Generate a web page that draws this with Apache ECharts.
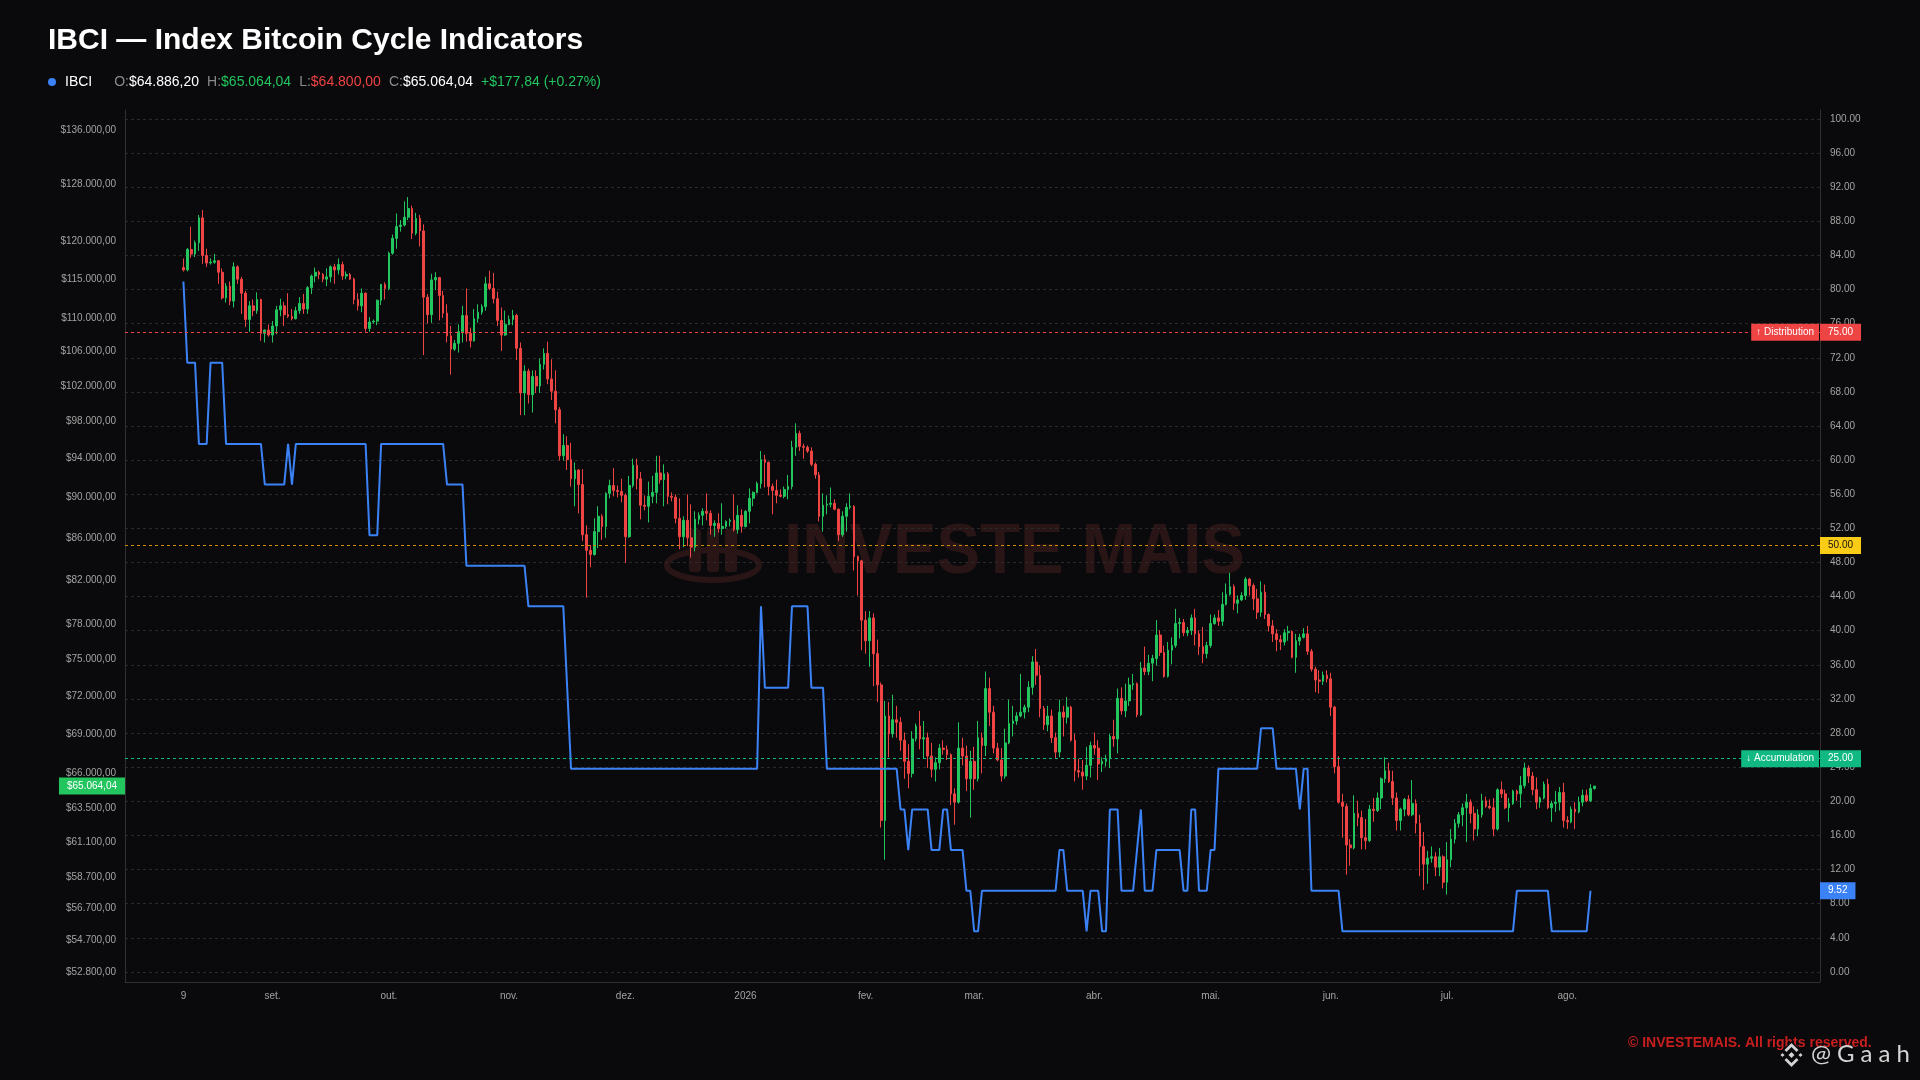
<!DOCTYPE html>
<html>
<head>
<meta charset="utf-8">
<title>IBCI — Index Bitcoin Cycle Indicators</title>
<script src="https://cdn.jsdelivr.net/npm/echarts@6.0.0/dist/echarts.min.js"></script>
<style>
  html, body { margin: 0; padding: 0; background: #0a0a0c; }
  #chart { width: 1920px; height: 1080px; }
</style>
</head>
<body>
<div id="chart"></div>
<script>
// daily candles, prices in thousands of USD, first day 2025-08-09
const firstDay = '2025-08-09';
const PRICE_UNIT = 1000;

const opens = [
  116.5,116.2,118.9,118.3,119.8,123.2,118.1,117.1,117.2,117.4,
  115.9,112.6,114.1,112.2,116.6,115.0,113.2,109.9,111.6,111.0,
  112.4,108.2,108.6,108.0,109.1,111.1,111.6,110.5,110.3,110.0,
  111.0,111.9,111.2,113.9,115.4,115.9,115.6,115.0,115.3,116.6,
  116.2,116.9,115.4,115.6,115.0,112.4,111.6,113.2,108.8,109.6,
  109.7,112.3,114.3,113.8,118.4,120.4,122.0,122.2,123.3,124.5,
  121.1,123.1,121.4,112.7,110.5,114.9,115.2,112.9,110.7,107.9,
  106.3,107.0,108.4,110.4,108.2,107.3,110.0,110.8,111.5,114.4,
  113.8,112.5,109.8,108.0,109.3,109.9,110.4,106.4,101.2,103.7,
  101.0,103.1,102.0,104.5,105.8,102.8,101.4,99.3,94.3,95.4,
  93.9,91.9,92.8,91.3,86.3,84.8,84.4,86.6,88.1,87.1,
  90.4,91.2,90.7,90.6,90.2,86.1,91.2,93.3,91.9,89.2,
  89.1,90.1,90.5,92.5,91.8,92.4,90.1,90.0,87.9,86.1,
  87.7,86.0,85.1,87.8,88.2,88.6,88.4,87.2,87.4,86.9,
  87.1,87.6,87.7,86.8,88.2,87.1,88.6,89.9,90.5,91.4,
  93.9,93.6,91.1,90.7,90.2,90.1,90.8,91.1,95.2,96.7,
  95.3,95.2,94.8,93.4,92.3,88.1,89.2,89.3,89.4,88.8,
  86.3,88.1,89.0,89.1,84.2,83.8,78.4,76.6,78.6,75.5,
  72.9,62.6,70.4,69.0,70.1,69.9,68.5,66.9,66.0,68.6,
  69.6,68.6,68.7,67.3,66.3,66.8,67.9,67.8,67.4,64.5,
  63.9,67.9,67.3,65.6,66.9,65.6,68.7,68.1,72.6,70.7,
  67.9,67.0,65.8,68.3,69.8,70.0,70.4,70.7,71.1,72.7,
  74.8,73.7,71.0,69.7,70.4,68.7,67.6,70.7,70.3,71.1,
  68.5,66.2,66.1,65.8,66.6,68.1,67.9,66.7,66.9,67.1,
  68.8,68.6,71.8,70.8,71.6,72.9,73.0,70.5,74.3,74.0,
  74.7,75.1,77.1,75.6,73.6,75.8,76.2,78.1,78.2,77.3,
  77.5,78.6,77.2,76.1,75.5,76.2,78.1,78.6,78.3,79.8,
  80.7,81.4,79.9,80.2,80.6,82.1,81.5,80.3,79.1,80.9,
  78.9,77.9,77.2,76.7,76.5,77.3,77.4,75.2,76.6,76.9,
  77.2,75.7,74.2,73.3,73.2,73.7,73.4,71.1,66.5,63.9,
  63.6,60.9,60.7,63.1,62.8,61.4,61.2,63.4,63.3,64.2,
  65.6,66.2,65.4,64.2,62.6,63.4,64.1,63.0,63.8,62.4,
  60.8,59.6,60.0,60.1,59.4,60.1,58.4,59.9,61.3,62.4,
  63.0,63.5,63.9,63.1,62.0,63.0,64.0,63.6,63.5,62.0,
  64.8,64.5,63.5,63.8,64.7,64.5,65.1,66.4,65.8,64.8,
  63.9,64.2,65.2,63.5,63.8,63.9,64.6,62.6,62.5,63.4,
  63.2,63.9,64.4,64.0,64.8862
];

const closes = [
  116.2,118.9,118.3,119.8,123.2,118.1,117.1,117.2,117.4,115.9,
  112.6,114.1,112.2,116.6,115.0,113.2,109.9,111.6,111.0,112.4,
  108.2,108.6,108.0,109.1,111.1,111.6,110.5,110.3,110.0,111.0,
  111.9,111.2,113.9,115.4,115.9,115.6,115.0,115.3,116.6,116.2,
  116.9,115.4,115.6,115.0,112.4,111.6,113.2,108.8,109.6,109.7,
  112.3,114.3,113.8,118.4,120.4,122.0,122.2,123.3,124.5,121.1,
  123.1,121.4,112.7,110.5,114.9,115.2,112.9,110.7,107.9,106.3,
  107.0,108.4,110.4,108.2,107.3,110.0,110.8,111.5,114.4,113.8,
  112.5,109.8,108.0,109.3,109.9,110.4,106.4,101.2,103.7,101.0,
  103.1,102.0,104.5,105.8,102.8,101.4,99.3,94.3,95.4,93.9,
  91.9,92.8,91.3,86.3,84.8,84.4,86.6,88.1,87.1,90.4,
  91.2,90.7,90.6,90.2,86.1,91.2,93.3,91.9,89.2,89.1,
  90.1,90.5,92.5,91.8,92.4,90.1,90.0,87.9,86.1,87.7,
  86.0,85.1,87.8,88.2,88.6,88.4,87.2,87.4,86.9,87.1,
  87.6,87.7,86.8,88.2,87.1,88.6,89.9,90.5,91.4,93.9,
  93.6,91.1,90.7,90.2,90.1,90.8,91.1,95.2,96.7,95.3,
  95.2,94.8,93.4,92.3,88.1,89.2,89.3,89.4,88.8,86.3,
  88.1,89.0,89.1,84.2,83.8,78.4,76.6,78.6,75.5,72.9,
  62.6,70.4,69.0,70.1,69.9,68.5,66.9,66.0,68.6,69.6,
  68.6,68.7,67.3,66.3,66.8,67.9,67.8,67.4,64.5,63.9,
  67.9,67.3,65.6,66.9,65.6,68.7,68.1,72.6,70.7,67.9,
  67.0,65.8,68.3,69.8,70.0,70.4,70.7,71.1,72.7,74.8,
  73.7,71.0,69.7,70.4,68.7,67.6,70.7,70.3,71.1,68.5,
  66.2,66.1,65.8,66.6,68.1,67.9,66.7,66.9,67.1,68.8,
  68.6,71.8,70.8,71.6,72.9,73.0,70.5,74.3,74.0,74.7,
  75.1,77.1,75.6,73.6,75.8,76.2,78.1,78.2,77.3,77.5,
  78.6,77.2,76.1,75.5,76.2,78.1,78.6,78.3,79.8,80.7,
  81.4,79.9,80.2,80.6,82.1,81.5,80.3,79.1,80.9,78.9,
  77.9,77.2,76.7,76.5,77.3,77.4,75.2,76.6,76.9,77.2,
  75.7,74.2,73.3,73.2,73.7,73.4,71.1,66.5,63.9,63.6,
  60.9,60.7,63.1,62.8,61.4,61.2,63.4,63.3,64.2,65.6,
  66.2,65.4,64.2,62.6,63.4,64.1,63.0,63.8,62.4,60.8,
  59.6,60.0,60.1,59.4,60.1,58.4,59.9,61.3,62.4,63.0,
  63.5,63.9,63.1,62.0,63.0,64.0,63.6,63.5,62.0,64.8,
  64.5,63.5,63.8,64.7,64.5,65.1,66.4,65.8,64.8,63.9,
  64.2,65.2,63.5,63.8,63.9,64.6,62.6,62.5,63.4,63.2,
  63.9,64.4,64.0,64.8862,65.06404
];

const highs = [
  117.7,119.1,122.0,120.1,123.6,124.3,119.0,117.7,118.3,117.5,
  116.4,114.5,114.7,117.2,116.8,115.3,113.5,112.2,112.4,113.3,
  112.5,108.7,109.3,109.7,111.6,112.5,112.1,113.2,111.2,111.5,
  112.7,113.1,114.1,115.6,116.5,116.1,115.8,116.4,116.8,117.0,
  117.7,117.3,116.0,115.8,115.2,113.2,113.8,113.3,110.2,109.9,
  112.4,114.4,114.6,118.6,120.9,123.8,122.9,125.5,126.1,124.9,
  123.9,123.6,122.3,113.1,115.7,115.9,115.3,113.5,111.8,109.1,
  107.4,109.3,111.6,113.8,108.9,111.2,111.8,111.8,115.3,116.1,
  115.8,113.4,111.4,111.0,110.4,111.1,110.6,107.1,104.4,104.0,
  103.8,103.8,105.2,106.4,107.2,105.1,103.8,99.6,96.6,96.4,
  95.7,93.6,92.9,92.9,87.2,85.3,87.9,89.1,88.3,90.5,
  91.8,93.0,91.2,91.9,90.4,92.2,94.0,94.0,92.6,90.2,
  91.6,92.2,94.3,94.3,93.4,92.6,90.5,90.3,89.9,88.1,
  90.3,89.3,88.6,88.5,88.9,90.4,88.7,87.7,88.4,89.4,
  87.7,87.9,90.3,89.2,88.8,88.7,90.9,90.6,91.6,94.8,
  94.4,93.7,91.4,91.8,90.8,91.1,92.3,95.9,97.8,97.0,
  95.6,95.4,95.2,93.6,92.6,90.4,90.2,91.0,89.8,88.9,
  88.6,89.4,90.4,89.2,84.3,83.9,79.2,79.2,79.0,76.7,
  73.1,71.6,71.5,72.1,71.2,70.3,69.1,68.2,69.2,69.8,
  70.8,70.0,69.1,68.3,67.2,68.2,68.5,68.1,67.5,64.9,
  69.9,68.7,68.1,67.7,68.0,70.0,69.1,74.0,73.5,71.2,
  68.3,67.9,69.4,71.7,71.2,70.7,73.8,71.3,73.2,75.3,
  75.9,74.5,71.2,71.2,70.9,69.1,71.7,71.2,71.9,71.2,
  69.0,67.1,67.0,68.0,68.4,69.1,68.5,67.2,67.4,69.0,
  70.1,72.6,72.7,73.0,73.5,73.8,73.1,74.8,76.1,75.4,
  75.4,78.4,77.5,76.2,76.5,76.9,79.4,78.6,78.5,77.8,
  78.9,79.4,77.5,77.8,76.5,78.9,78.9,79.3,80.9,81.7,
  82.7,81.6,80.6,80.9,82.3,82.2,81.7,81.2,81.9,81.6,
  79.0,78.4,77.6,77.1,77.6,77.9,77.5,77.2,77.2,77.7,
  77.9,75.9,74.4,74.1,74.0,74.1,73.9,71.2,67.3,64.5,
  63.8,61.3,64.4,64.0,63.3,62.7,63.7,64.2,64.6,65.7,
  67.2,66.8,66.2,64.6,63.5,64.2,64.4,65.5,64.1,63.0,
  61.8,60.5,60.8,60.4,60.7,60.2,61.1,62.0,62.7,63.2,
  63.8,64.5,64.1,63.6,63.4,64.5,64.3,64.1,64.2,64.9,
  65.4,64.8,64.2,64.8,64.8,65.8,66.8,66.6,66.1,65.7,
  64.3,65.4,65.6,64.0,64.7,65.0,65.3,62.9,63.6,63.9,
  64.3,64.8,64.8,65.2,65.06404
];

const lows = [
  116.0,116.0,117.8,117.9,118.7,117.0,116.6,116.9,117.0,114.4,
  112.4,112.0,111.7,111.4,114.4,110.6,109.0,108.4,110.3,110.6,
  107.3,107.1,107.8,107.1,108.1,110.3,109.1,110.1,109.8,109.9,
  110.6,110.6,110.6,113.1,114.6,115.0,114.6,114.1,114.6,114.4,
  115.6,114.9,115.0,114.9,111.8,111.0,110.8,108.4,108.4,109.4,
  109.2,111.7,112.4,113.6,118.2,119.0,121.3,122.0,122.9,120.3,
  120.8,119.3,105.6,109.4,109.5,113.6,109.8,110.1,107.1,103.3,
  106.1,105.9,107.1,107.2,106.5,107.2,109.5,110.5,111.0,113.6,
  111.9,109.1,106.1,107.9,109.2,109.2,105.0,98.7,98.7,100.0,
  99.0,101.2,101.2,103.9,102.2,100.4,97.8,93.8,93.8,92.8,
  91.1,89.1,88.4,85.7,80.4,83.2,84.3,85.0,85.8,86.0,
  89.9,90.1,90.0,89.5,83.6,86.0,91.0,90.8,87.8,88.7,
  87.5,89.4,89.4,91.4,89.1,89.3,89.6,87.4,84.9,85.1,
  85.2,84.1,84.7,87.3,87.2,87.7,86.3,86.1,86.5,86.3,
  86.9,87.1,86.6,86.4,86.5,87.0,87.4,89.1,90.4,90.9,
  91.0,90.2,88.3,89.4,90.0,89.9,89.8,90.8,94.3,94.8,
  94.0,94.6,93.2,91.9,87.6,86.6,88.3,89.0,88.7,85.7,
  86.1,86.6,88.8,82.9,80.6,75.8,75.5,74.4,72.8,71.5,
  62.1,59.9,67.2,68.7,68.7,67.7,65.6,64.9,65.7,68.4,
  67.8,67.1,66.4,65.7,65.4,66.3,67.4,67.0,63.7,62.3,
  63.8,66.6,64.7,62.8,64.8,65.4,66.0,67.3,69.6,67.5,
  66.9,65.4,65.6,68.2,68.8,69.7,70.3,70.2,70.7,72.1,
  72.9,70.3,69.3,69.2,68.3,67.1,67.2,68.8,69.8,68.4,
  65.4,65.7,64.8,65.5,65.7,67.4,65.5,66.1,66.5,66.4,
  68.0,67.5,70.5,70.3,71.2,72.5,70.3,70.4,73.7,73.7,
  73.2,74.5,75.3,73.5,73.5,74.6,76.0,76.8,77.0,77.0,
  77.1,76.2,75.4,74.7,75.1,76.0,78.0,77.9,77.9,79.7,
  80.6,79.3,79.0,80.1,80.2,80.6,79.3,78.5,78.7,78.5,
  77.4,76.5,75.7,75.8,76.2,76.6,75.1,73.9,76.2,76.8,
  75.4,74.0,72.3,72.2,72.9,73.1,70.4,66.0,63.8,61.4,
  58.9,59.5,60.6,62.2,60.6,60.6,61.1,62.5,63.2,63.4,
  65.3,65.3,63.7,61.9,61.9,62.9,62.9,62.9,61.7,58.8,
  57.9,58.3,59.7,58.8,58.8,58.0,57.6,59.4,61.0,62.1,
  62.2,61.1,62.4,61.2,61.5,62.8,63.5,63.4,61.5,61.9,
  64.2,63.4,62.5,63.7,64.0,63.5,64.9,65.3,64.4,63.4,
  63.5,64.1,63.4,62.5,63.2,63.3,62.1,62.0,62.4,62.0,
  63.1,63.6,63.9,63.9,64.8
];

// IBCI cycle index, 0-100 (right axis); last day has no reading yet
const ibci = [
  80.95,
  71.43,71.43,71.43,
  61.90,61.90,61.90,
  71.43,71.43,71.43,71.43,
  61.90,61.90,61.90,61.90,61.90,61.90,61.90,61.90,61.90,61.90,
  57.14,57.14,57.14,57.14,57.14,57.14,
  61.90,57.14,
  61.90,61.90,61.90,61.90,61.90,61.90,61.90,61.90,61.90,61.90,
  61.90,61.90,61.90,61.90,61.90,61.90,61.90,61.90,61.90,
  51.19,51.19,51.19,
  61.90,61.90,61.90,61.90,61.90,61.90,61.90,61.90,61.90,61.90,
  61.90,61.90,61.90,61.90,61.90,61.90,61.90,
  57.14,57.14,57.14,57.14,57.14,
  47.62,47.62,47.62,47.62,47.62,47.62,47.62,47.62,
  47.62,47.62,47.62,47.62,47.62,47.62,47.62,47.62,
  42.86,42.86,42.86,42.86,42.86,42.86,42.86,42.86,42.86,42.86,
  33.33,
  23.81,23.81,23.81,23.81,23.81,23.81,23.81,23.81,23.81,23.81,
  23.81,23.81,23.81,23.81,23.81,23.81,23.81,23.81,23.81,23.81,
  23.81,23.81,23.81,23.81,23.81,23.81,23.81,23.81,23.81,23.81,
  23.81,23.81,23.81,23.81,23.81,23.81,23.81,23.81,23.81,23.81,
  23.81,23.81,23.81,23.81,23.81,23.81,23.81,23.81,23.81,
  42.86,
  33.33,33.33,33.33,33.33,33.33,33.33,33.33,
  42.86,42.86,42.86,42.86,42.86,
  33.33,33.33,33.33,33.33,
  23.81,23.81,23.81,23.81,23.81,23.81,23.81,23.81,23.81,23.81,
  23.81,23.81,23.81,23.81,23.81,23.81,23.81,23.81,23.81,
  19.05,19.05,
  14.29,
  19.05,19.05,19.05,19.05,19.05,
  14.29,14.29,14.29,
  19.05,19.05,
  14.29,14.29,14.29,14.29,
  9.52,9.52,
  4.76,4.76,
  9.52,9.52,9.52,9.52,9.52,9.52,9.52,9.52,9.52,9.52,
  9.52,9.52,9.52,9.52,9.52,9.52,9.52,9.52,9.52,9.52,
  14.29,14.29,
  9.52,9.52,9.52,9.52,9.52,
  4.76,
  9.52,9.52,9.52,
  4.76,4.76,
  19.05,19.05,19.05,
  9.52,9.52,9.52,9.52,
  14.29,
  19.05,
  9.52,9.52,9.52,
  14.29,14.29,14.29,14.29,14.29,14.29,14.29,
  9.52,9.52,
  19.05,19.05,
  9.52,9.52,9.52,
  14.29,14.29,
  23.81,23.81,23.81,23.81,23.81,23.81,23.81,23.81,23.81,23.81,23.81,
  28.57,28.57,28.57,28.57,
  23.81,23.81,23.81,23.81,23.81,23.81,
  19.05,
  23.81,23.81,
  9.52,9.52,9.52,9.52,9.52,9.52,9.52,9.52,
  4.76,4.76,4.76,4.76,4.76,4.76,4.76,4.76,4.76,4.76,
  4.76,4.76,4.76,4.76,4.76,4.76,4.76,4.76,4.76,4.76,
  4.76,4.76,4.76,4.76,4.76,4.76,4.76,4.76,4.76,4.76,
  4.76,4.76,4.76,4.76,4.76,4.76,4.76,4.76,4.76,4.76,
  4.76,4.76,4.76,4.76,4.76,
  9.52,9.52,9.52,9.52,9.52,9.52,9.52,9.52,9.52,
  4.76,4.76,4.76,4.76,4.76,4.76,4.76,4.76,4.76,4.76,
  9.52,
  null
];

// axis ticks
const priceTicks = [52800, 54700, 56700, 58700, 61100, 63500, 66000, 69000, 72000, 75000,
  78000, 82000, 86000, 90000, 94000, 98000, 102000, 106000, 110000, 115000, 120000, 128000, 136000];
const ibciTicks = [0, 4, 8, 12, 16, 20, 24, 28, 32, 36, 40, 44, 48, 52, 56, 60, 64, 68, 72, 76,
  80, 84, 88, 92, 96, 100];
const xTickDates = ['2025-08-09', '2025-09-01', '2025-10-01', '2025-11-01', '2025-12-01', '2026-01-01',
  '2026-02-01', '2026-03-01', '2026-04-01', '2026-05-01', '2026-06-01', '2026-07-01', '2026-08-01'];
const xTickLabels = ['9', 'set.', 'out.', 'nov.', 'dez.', '2026', 'fev.', 'mar.', 'abr.', 'mai.', 'jun.', 'jul.', 'ago.'];

// cycle zones on the index
const levelValues = [75, 50, 25];
const levelTags = ['↑ Distribution', '', '↓ Accumulation'];

const FONT = "'Liberation Sans', Arial, Helvetica, sans-serif";
const UP = '#22c55e';
const DOWN = '#ef4444';
const BLUE = '#3b82f6';
const AXIS = '#303033';
const LABEL = '#a3a3a3';
const HIDDEN = 'rgba(0,0,0,0)';
const levelLine = ['#ef4444', '#d08c00', '#10b981'];
const levelBox = ['#ef4444', '#facc15', '#10b981'];
const levelText = ['#ffffff', '#111111', '#ffffff'];

const DAY = 86400000;

function dayStamp(s) {
  const p = s.split('-').map(Number);
  return Date.UTC(p[0], p[1] - 1, p[2]);
}

function brl(v) {
  const parts = Math.abs(v).toFixed(2).split('.');
  return '$' + parts[0].replace(/\B(?=(\d{3})+(?!\d))/g, '.') + ',' + parts[1];
}

// x is counted in days from the first candle
const t0 = dayStamp(firstDay);
const xTickDays = xTickDates.map(function (s) { return Math.round((dayStamp(s) - t0) / DAY); });

const candleData = closes.map(function (_, i) {
  return [i, opens[i] * PRICE_UNIT, closes[i] * PRICE_UNIT, lows[i] * PRICE_UNIT, highs[i] * PRICE_UNIT];
});
const ibciData = ibci.map(function (v, i) { return [i, v]; });

const last = closes.length - 1;
const lastOpen = opens[last] * PRICE_UNIT;
const lastClose = closes[last] * PRICE_UNIT;
const change = lastClose - lastOpen;
const changePct = change / lastOpen * 100;
let lastIbci = null;
for (let i = ibci.length - 1; i >= 0 && lastIbci === null; i--) lastIbci = ibci[i];

const chart = echarts.init(document.getElementById('chart'));

const badge = {
  show: true,
  fontFamily: FONT,
  fontSize: 10,
  lineHeight: 11,
  padding: [3, 8]
};

const levelItems = [];
levelValues.forEach(function (v, k) {
  levelItems.push({
    yAxis: v,
    lineStyle: { color: levelLine[k], type: [3, 3], width: 1, opacity: 1 },
    label: Object.assign({}, badge, {
      position: 'end', distance: 0, formatter: v.toFixed(2),
      backgroundColor: levelBox[k], color: levelText[k]
    })
  });
  if (levelTags[k]) {
    levelItems.push({
      yAxis: v,
      lineStyle: { color: HIDDEN, width: 0 },
      label: Object.assign({}, badge, {
        position: 'insideEnd', distance: 1, formatter: levelTags[k], padding: [3, 5],
        backgroundColor: levelBox[k], color: '#ffffff'
      })
    });
  }
});
levelItems.push({
  yAxis: lastIbci,
  lineStyle: { color: HIDDEN, width: 0 },
  label: Object.assign({}, badge, {
    position: 'end', distance: 0, formatter: lastIbci.toFixed(2),
    backgroundColor: BLUE, color: '#ffffff'
  })
});

const headerText =
  '{dot| }{name|IBCI}' +
  '{k|O:}{w|' + brl(lastOpen) + '}' +
  '{k|H:}{g|' + brl(highs[last] * PRICE_UNIT) + '}' +
  '{k|L:}{r|' + brl(lows[last] * PRICE_UNIT) + '}' +
  '{k|C:}{w|' + brl(lastClose) + '}' +
  '{c|' + (change >= 0 ? '+' : '-') + brl(change).replace('.', ',') + ' (' + (change >= 0 ? '+' : '') + changePct.toFixed(2) + '%)}';

const plain = { fontSize: 14, fontWeight: 'normal', fontFamily: FONT };

const option = {
  backgroundColor: '#0a0a0c',
  animation: false,
  textStyle: { fontFamily: FONT },
  title: [
    {
      text: 'IBCI — Index Bitcoin Cycle Indicators',
      left: 48, top: 26, padding: 0,
      textStyle: { color: '#ffffff', fontSize: 30, fontWeight: 'bold', fontFamily: FONT }
    },
    {
      text: headerText,
      left: 48, top: 75, padding: 0,
      textStyle: {
        fontFamily: FONT, fontSize: 14, fontWeight: 'normal',
        rich: {
          dot: { width: 8, height: 8, borderRadius: 4, backgroundColor: BLUE, fontSize: 8 },
          name: Object.assign({ color: '#ffffff', padding: [0, 22, 0, 9] }, plain),
          k: Object.assign({ color: '#8a8a8a' }, plain),
          w: Object.assign({ color: '#ffffff', padding: [0, 8, 0, 0] }, plain),
          g: Object.assign({ color: UP, padding: [0, 8, 0, 0] }, plain),
          r: Object.assign({ color: DOWN, padding: [0, 8, 0, 0] }, plain),
          c: Object.assign({ color: UP }, plain)
        }
      }
    }
  ],
  grid: { left: 125, right: 100, top: 110, bottom: 98, containLabel: false, outerBoundsMode: 'none' },
  xAxis: {
    type: 'value',
    min: -15.07,
    max: 422.2,
    axisLine: { show: true, onZero: false, lineStyle: { color: AXIS } },
    axisTick: { show: false, customValues: xTickDays },
    splitLine: { show: false },
    axisLabel: {
      customValues: xTickDays,
      color: LABEL, fontSize: 10, margin: 9, fontFamily: FONT,
      formatter: function (value) {
        const k = xTickDays.indexOf(Math.round(value));
        return k >= 0 ? xTickLabels[k] : '';
      }
    }
  },
  yAxis: [
    {
      type: 'log',
      logBase: 10,
      position: 'left',
      min: 52210,
      max: 139070,
      axisLine: { show: true, onZero: false, lineStyle: { color: AXIS } },
      axisTick: { show: false, customValues: priceTicks },
      splitLine: { show: false },
      axisLabel: {
        customValues: priceTicks,
        color: LABEL, fontSize: 10, margin: 9, fontFamily: FONT,
        formatter: function (v) { return brl(v); }
      }
    },
    {
      type: 'value',
      position: 'right',
      min: -1.18,
      max: 101.05,
      axisLine: { show: true, onZero: false, lineStyle: { color: AXIS } },
      axisTick: { show: false, customValues: ibciTicks },
      splitLine: { show: true, lineStyle: { color: '#2a2a2d', type: [3, 3], width: 1 } },
      axisLabel: {
        customValues: ibciTicks,
        color: LABEL, fontSize: 10, margin: 10, fontFamily: FONT,
        formatter: function (v) { return v.toFixed(2); }
      }
    }
  ],
  series: [
    {
      name: 'IBCI',
      type: 'candlestick',
      yAxisIndex: 0,
      data: candleData,
      barWidth: 2.2,
      itemStyle: {
        color: UP, color0: DOWN,
        borderColor: UP, borderColor0: DOWN,
        borderWidth: 1
      },
      markLine: {
        symbol: ['none', 'none'],
        silent: true,
        animation: false,
        data: [{
          yAxis: lastClose,
          lineStyle: { color: HIDDEN, width: 0 },
          label: Object.assign({}, badge, {
            position: 'start', distance: 0,
            formatter: function (p) { return brl(p.value); },
            backgroundColor: UP, color: '#ffffff'
          })
        }]
      }
    },
    {
      name: 'IBCI index',
      type: 'line',
      yAxisIndex: 1,
      data: ibciData,
      showSymbol: false,
      symbol: 'none',
      z: 3,
      lineStyle: { color: BLUE, width: 2 },
      markLine: {
        symbol: ['none', 'none'],
        silent: true,
        animation: false,
        data: levelItems
      }
    }
  ],
  graphic: {
    elements: [
      // watermark
      {
        type: 'group', z: -1, silent: true,
        children: [
          { type: 'ellipse', shape: { cx: 713, cy: 565, rx: 46, ry: 15 },
            style: { fill: null, stroke: '#2a1516', lineWidth: 6 } },
          { type: 'rect', shape: { x: 689, y: 529, width: 12, height: 43, r: 3 }, style: { fill: '#2a1516' } },
          { type: 'rect', shape: { x: 707, y: 529, width: 12, height: 43, r: 3 }, style: { fill: '#2a1516' } },
          { type: 'rect', shape: { x: 725, y: 529, width: 12, height: 43, r: 3 }, style: { fill: '#2a1516' } },
          { type: 'text', x: 784, y: 553, scaleX: 0.92,
            style: { text: 'INVESTE MAIS', font: 'bold 71px ' + FONT, fill: '#2a1516', textVerticalAlign: 'middle' } }
        ]
      },
      {
        type: 'text', x: 1628, y: 1043, silent: true,
        style: {
          text: '© INVESTEMAIS. All rights reserved.',
          font: 'bold 14px ' + FONT, fill: '#c81e1e', textVerticalAlign: 'middle'
        }
      },
      {
        type: 'group', x: 1791.5, y: 1055, silent: true,
        children: [
          { type: 'polygon', shape: { points: [[0, -13], [8, -5], [5, -2], [0, -7], [-5, -2], [-8, -5]] },
            style: { fill: '#d4d4d4', stroke: '#0a0a0c', lineWidth: 1.5 } },
          { type: 'polygon', shape: { points: [[0, 13], [8, 5], [5, 2], [0, 7], [-5, 2], [-8, 5]] },
            style: { fill: '#d4d4d4', stroke: '#0a0a0c', lineWidth: 1.5 } },
          { type: 'polygon', shape: { points: [[0, -4], [4, 0], [0, 4], [-4, 0]] },
            style: { fill: '#d4d4d4', stroke: '#0a0a0c', lineWidth: 1.5 } },
          { type: 'polygon', shape: { points: [[-9, -3], [-6, 0], [-9, 3], [-12, 0]] },
            style: { fill: '#d4d4d4', stroke: '#0a0a0c', lineWidth: 1.5 } },
          { type: 'polygon', shape: { points: [[9, -3], [12, 0], [9, 3], [6, 0]] },
            style: { fill: '#d4d4d4', stroke: '#0a0a0c', lineWidth: 1.5 } }
        ]
      },
      {
        type: 'text', x: 1808, y: 1054, silent: true,
        style: {
          text: '{c|@}{c|G}{c|a}{c|a}{c|h}',
          textVerticalAlign: 'middle',
          rich: { c: { fontFamily: 'Lato, ' + FONT, fontSize: 24, fill: '#d4d4d4', padding: [0, 3] } }
        }
      }
    ]
  }
};

chart.setOption(option);
</script>
</body>
</html>
